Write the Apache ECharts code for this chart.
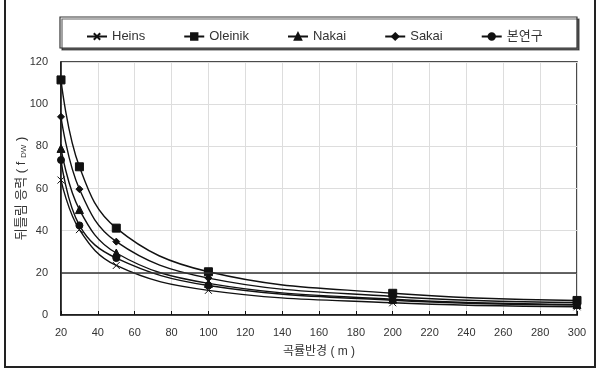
<!DOCTYPE html>
<html>
<head>
<meta charset="utf-8">
<script src="https://cdn.jsdelivr.net/npm/echarts@6/dist/echarts.min.js"></script>
<style>
  html, body { margin: 0; padding: 0; background: #fff; }
  #chart { width: 600px; height: 369px; }
</style>
</head>
<body>
<div id="chart"></div>
<script>
// 곡률반경 (m)
const radii = [20, 30, 50, 100, 200, 300];
// 뒤틀림 응력 by method
const heins = [64, 40.5, 23.5, 11.7, 5.8, 3.9];
const oleinik = [111.5, 70.3, 41.2, 20.5, 10.3, 6.9];
const nakai = [79, 50, 29.4, 15, 7.5, 5];
const sakai = [94, 59.7, 34.8, 17.5, 8.8, 5.9];
const bonyeongu = [73.5, 42.5, 27, 14, 7, 4.7];
const refLine = 20;

const font = '"Liberation Sans", Arial, "Noto Sans CJK KR", sans-serif';

function pairs(ys) {
    return radii.map((x, i) => [x, ys[i]]);
}

function mkSeries(name, ys, symbol, size) {
    return {
        name: name,
        type: 'line',
        data: pairs(ys),
        smooth: 0.4,
        symbol: symbol,
        symbolSize: size,
        lineStyle: {color: '#111', width: 1.4},
        itemStyle: {color: '#111', borderColor: '#111', borderWidth: 1},
        z: 3
    };
}

const chart = echarts.init(document.getElementById('chart'));

const series = [
    mkSeries('Heins', heins, 'path://M0,0L10,10M10,0L0,10', 7),
    mkSeries('Oleinik', oleinik, 'rect', 8),
    mkSeries('Nakai', nakai, 'triangle', 8),
    mkSeries('Sakai', sakai, 'diamond', 7),
    mkSeries('본연구', bonyeongu, 'circle', 7)
];
series[0].markLine = {
    silent: true,
    symbol: 'none',
    label: {show: false},
    lineStyle: {color: '#333', width: 1.5, type: 'solid'},
    data: [{yAxis: refLine}]
};

chart.setOption({
    animation: false,
    textStyle: {fontFamily: font},
    graphic: [
        {
            type: 'rect',
            shape: {x: 5, y: -3, width: 590, height: 370},
            style: {fill: 'none', stroke: '#222', lineWidth: 2},
            z: 0
        },
        {
            type: 'rect',
            shape: {x: 60, y: 17, width: 517, height: 31},
            style: {
                fill: '#fff', stroke: '#333', lineWidth: 1.2,
                shadowColor: 'rgba(0,0,0,0.6)', shadowOffsetX: 2, shadowOffsetY: 2, shadowBlur: 0
            },
            z: 0
        }
    ],
    legend: {
        left: 81,
        top: 25,
        itemWidth: 20,
        itemHeight: 8,
        itemGap: 38,
        textStyle: {fontSize: 13, color: '#333', fontFamily: font},
        data: ['Heins', 'Oleinik', 'Nakai', 'Sakai', '본연구']
    },
    grid: {
        left: 61, right: 23, top: 62, bottom: 54,
        show: true, borderColor: '#111', borderWidth: 1.5,
        containLabel: false
    },
    xAxis: {
        type: 'value',
        min: 20, max: 300, interval: 20,
        name: '곡률반경 ( m )',
        nameLocation: 'middle',
        nameGap: 31,
        nameMoveOverlap: false,
        nameTextStyle: {fontSize: 12, color: '#333', fontFamily: font},
        axisLine: {lineStyle: {color: '#111', width: 1.5}},
        axisTick: {show: true, inside: true, length: 4, lineStyle: {color: '#111'}},
        axisLabel: {fontSize: 11, color: '#333', margin: 12},
        splitLine: {show: true, lineStyle: {color: '#ddd', width: 1}}
    },
    yAxis: {
        type: 'value',
        min: 0, max: 120, interval: 20,
        name: '뒤틀림 응력 ( f {sub|DW} )',
        nameLocation: 'middle',
        nameGap: 33,
        nameRotate: 90,
        nameMoveOverlap: false,
        nameTextStyle: {
            fontSize: 13, color: '#333', fontFamily: font,
            rich: {sub: {fontSize: 8, color: '#333', verticalAlign: 'bottom', fontFamily: font}}
        },
        axisLine: {show: true, lineStyle: {color: '#111', width: 1.5}},
        axisTick: {show: false},
        axisLabel: {fontSize: 11, color: '#333', margin: 13},
        splitLine: {show: true, lineStyle: {color: '#ddd', width: 1}}
    },
    series: series
});
</script>
</body>
</html>
